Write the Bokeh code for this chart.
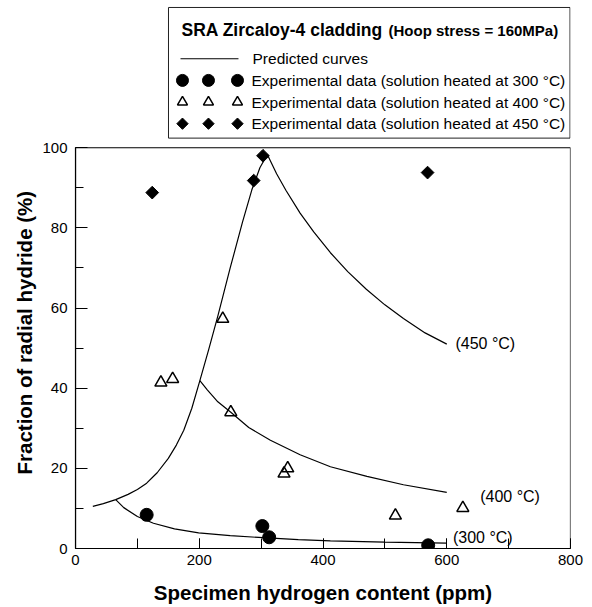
from bokeh.plotting import figure
from bokeh.models import Range1d, SingleIntervalTicker, ColumnDataSource, BoxAnnotation, Title
from bokeh.embed import file_html
from bokeh.resources import INLINE
from bokeh.core.properties import value

FONT = "Liberation Sans"

# ---------------- data ----------------
# shared rising branch of the predicted curves
rise_x = [28, 45, 65, 85, 100, 115, 132, 150, 163, 175, 188, 201, 215, 230, 250, 270, 285, 298, 310]
rise_y = [10.5, 11.2, 12.2, 13.5, 14.7, 16.3, 18.9, 22.5, 25.8, 29.5, 35.0, 41.9, 49.5, 58.0, 70.0, 81.5, 89.5, 95.0, 98.3]
# descending branches
c450_x = [310, 325, 340, 363, 385, 412, 440, 470, 500, 530, 565, 600]
c450_y = [98.3, 93.5, 89.4, 83.7, 79.0, 73.8, 69.1, 64.7, 60.8, 57.4, 53.8, 51.0]
c400_x = [201, 213, 230, 251, 280, 315, 363, 412, 471, 530, 600]
c400_y = [41.9, 39.6, 36.6, 34.0, 30.2, 27.0, 23.4, 20.4, 18.0, 15.9, 14.0]
c300_x = [65, 78, 100, 126, 160, 199, 250, 303, 360, 412, 500, 600]
c300_y = [12.2, 10.2, 8.0, 6.3, 4.9, 3.9, 3.2, 2.7, 2.2, 1.9, 1.6, 1.35]

# experimental data
exp300_x = [115, 302, 313, 570]
exp300_y = [8.4, 5.6, 2.8, 0.8]
exp400_x = [138, 157, 238, 251, 337, 343, 517, 626]
exp400_y = [41.4, 42.3, 57.3, 34.0, 18.7, 20.0, 8.2, 10.1]
exp450_x = [124, 288, 303, 569]
exp450_y = [88.8, 91.8, 98.0, 93.8]

# curve labels
curve_label_text = ["(450 °C)", "(400 °C)", "(300 °C)"]
curve_label_x = [614, 654, 610]
curve_label_y = [51.2, 13.0, 2.7]

x_label = "Specimen hydrogen content (ppm)"
y_label = "Fraction of radial hydride (%)"
legend_title_main = "SRA Zircaloy-4 cladding"
legend_title_sub = "(Hoop stress = 160MPa)"
legend_labels = [
    "Predicted curves",
    "Experimental data (solution heated at 300 °C)",
    "Experimental data (solution heated at 400 °C)",
    "Experimental data (solution heated at 450 °C)",
]

X_MAX, Y_MAX = 800, 100
Y_TOP = 136.74  # extra room above the axes box holds the legend

# ---------------- figure ----------------
p = figure(width=584, height=606, x_range=Range1d(0, X_MAX), y_range=Range1d(0, Y_TOP),
           output_backend="svg", toolbar_location=None,
           min_border_left=75, min_border_right=14, min_border_top=0, min_border_bottom=57)
p.xgrid.visible = False
p.ygrid.visible = False
p.outline_line_color = None

p.xaxis.ticker = SingleIntervalTicker(interval=200, num_minor_ticks=2)
p.yaxis.ticker = SingleIntervalTicker(interval=20, num_minor_ticks=2)
p.yaxis.bounds = (0, Y_MAX)
for ax in (p.xaxis, p.yaxis):
    ax.axis_line_color = "black"
    ax.axis_line_width = 1.2
    ax.major_tick_line_color = "black"
    ax.minor_tick_line_color = "black"
    ax.major_tick_out = 0
    ax.minor_tick_out = 0
    ax.major_label_text_font = FONT
    ax.major_label_text_font_size = "15px"
    ax.major_label_text_color = "black"
    ax.axis_label_text_font = FONT
    ax.axis_label_text_font_style = "bold"
    ax.axis_label_text_font_size = "20.5px"
    ax.axis_label_text_color = "black"
p.xaxis.major_tick_in = 10
p.xaxis.minor_tick_in = 10
p.yaxis.major_tick_in = 12
p.yaxis.minor_tick_in = 8
p.xaxis.major_label_standoff = 6
p.yaxis.major_label_standoff = 8
p.xaxis.axis_label = x_label
p.xaxis.axis_label_standoff = 13

# y-axis title, placed so that it is centred on the 0-100 axis box
p.add_layout(Title(text=y_label, align="left", offset=74, standoff=8,
                   text_font=FONT, text_font_style="bold", text_font_size="20.5px",
                   text_color="black"), "left")

# box around the axes area
p.add_layout(BoxAnnotation(left=0, right=X_MAX, bottom=0, top=Y_MAX, fill_alpha=0,
                           line_color="black", line_width=1.2, line_alpha=1))

lc = dict(line_color="black", line_width=1.2)
p.line(rise_x, rise_y, **lc)
p.line(c450_x, c450_y, **lc)
p.line(c400_x, c400_y, **lc)
p.line(c300_x, c300_y, **lc)

p.scatter(exp300_x, exp300_y, marker="circle", size=13, fill_color="black", line_color="black")
p.scatter(exp400_x, exp400_y, marker="triangle", size=12, fill_color=None,
          line_color="black", line_width=1.5)
p.scatter(exp450_x, exp450_y, marker="square", angle=0.7853981634, size=9,
          fill_color="black", line_color="black")

src = ColumnDataSource(dict(x=curve_label_x, y=curve_label_y, t=curve_label_text))
p.text(x="x", y="y", text="t", source=src, text_font=value(FONT), text_font_size="16px",
       text_baseline="middle", text_align="left", text_color="black")

# ---------------- legend (above the axes box) ----------------
p.quad(left=150.3, right=799.2, top=135.0, bottom=102.4,
       fill_color=None, line_color="#222222", line_width=1)
p.text(x=[171.3], y=[129.3], text=[legend_title_main], text_font=value(FONT),
       text_font_style="bold", text_font_size="17.5px", text_baseline="alphabetic",
       text_color="black")
p.text(x=[505.9], y=[129.3], text=[legend_title_sub], text_font=value(FONT),
       text_font_style="bold", text_font_size="15px", text_baseline="alphabetic",
       text_color="black")
row_y = [122.2, 116.8, 111.4, 106.0]
p.line(x=[169.7, 263.4], y=[row_y[0], row_y[0]], line_color="black", line_width=1.2)
mx = [172.9, 214.9, 261.8]
p.scatter(x=mx, y=[row_y[1]] * 3, marker="circle", size=12, fill_color="black", line_color="black")
p.scatter(x=mx, y=[row_y[2]] * 3, marker="triangle", size=10, fill_color=None,
          line_color="black", line_width=1.5)
p.scatter(x=mx, y=[row_y[3]] * 3, marker="square", angle=0.7853981634, size=8,
          fill_color="black", line_color="black")
p.text(x=[286.1, 284.4, 284.4, 284.4], y=row_y, text=legend_labels, text_font=value(FONT),
       text_font_size="15.5px", text_baseline="middle", text_color="black")

open("out.html", "w").write(file_html(p, INLINE))
